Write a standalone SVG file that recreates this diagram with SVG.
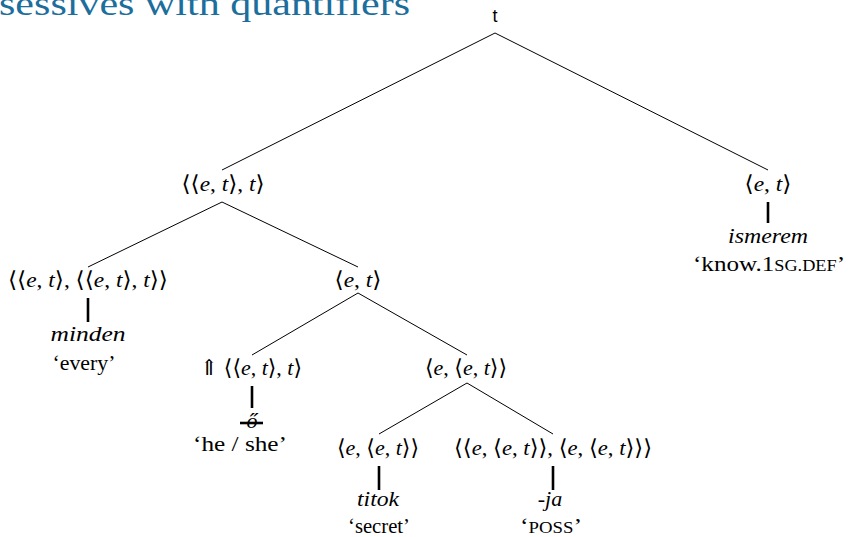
<svg xmlns="http://www.w3.org/2000/svg" width="850" height="537" viewBox="0 0 850 537">
<style>
text{font-family:"Liberation Serif","DejaVu Serif",serif;font-size:22px;fill:#000;text-anchor:middle}
.i{font-style:italic}
.sc{font-size:16px}
.title{font-size:34px;fill:#1c6e9c;text-anchor:start}
.sans{font-family:"Liberation Sans","DejaVu Sans",sans-serif;font-size:18px}
.br{stroke:#000;stroke-width:1;fill:none}
.lx{stroke:#000;stroke-width:2.6;fill:none}
</style>
<text class="title" x="-1" y="15" textLength="411" lengthAdjust="spacingAndGlyphs">sessives with quantifiers</text>
<g id="connectors">
<line class="br" x1="495" y1="33" x2="222" y2="170"/>
<line class="br" x1="495" y1="33" x2="768" y2="170"/>
<line class="br" x1="222" y1="202" x2="88" y2="267"/>
<line class="br" x1="222" y1="202" x2="358" y2="267"/>
<line class="br" x1="358" y1="293" x2="252" y2="355"/>
<line class="br" x1="358" y1="293" x2="467" y2="355"/>
<line class="br" x1="467" y1="383" x2="379" y2="434"/>
<line class="br" x1="467" y1="383" x2="553" y2="434"/>
<line class="lx" x1="768" y1="202" x2="768" y2="223"/>
<line class="lx" x1="88" y1="298" x2="88" y2="322"/>
<line class="lx" x1="252" y1="386" x2="252" y2="408"/>
<line class="lx" x1="379" y1="466" x2="379" y2="490"/>
<line class="lx" x1="553" y1="466" x2="553" y2="490"/>
</g>
<g id="root"><text class="sans" x="495" y="22">t</text></g>
<g id="n-ett-t"><text x="223" y="191" textLength="83" lengthAdjust="spacingAndGlyphs">⟨⟨<tspan class="i">e</tspan>, <tspan class="i">t</tspan>⟩, <tspan class="i">t</tspan>⟩</text></g>
<g id="n-verb"><text x="768" y="191" textLength="47" lengthAdjust="spacingAndGlyphs">⟨<tspan class="i">e</tspan>, <tspan class="i">t</tspan>⟩</text>
<text class="i" x="768" y="243" textLength="80" lengthAdjust="spacingAndGlyphs">ismerem</text>
<text x="769" y="271" textLength="152" lengthAdjust="spacingAndGlyphs">‘know.1<tspan class="sc">SG.DEF</tspan>’</text></g>
<g id="n-minden"><text x="88" y="287" textLength="160" lengthAdjust="spacingAndGlyphs">⟨⟨<tspan class="i">e</tspan>, <tspan class="i">t</tspan>⟩, ⟨⟨<tspan class="i">e</tspan>, <tspan class="i">t</tspan>⟩, <tspan class="i">t</tspan>⟩⟩</text>
<text class="i" x="88" y="341" textLength="75" lengthAdjust="spacingAndGlyphs">minden</text>
<text x="84" y="370" textLength="63" lengthAdjust="spacingAndGlyphs">‘every’</text></g>
<g id="n-et"><text x="358" y="287" textLength="47" lengthAdjust="spacingAndGlyphs">⟨<tspan class="i">e</tspan>, <tspan class="i">t</tspan>⟩</text></g>
<g id="n-o"><text x="251" y="375" textLength="102" lengthAdjust="spacingAndGlyphs">⇑ ⟨⟨<tspan class="i">e</tspan>, <tspan class="i">t</tspan>⟩, <tspan class="i">t</tspan>⟩</text>
<text class="i" x="252" y="428">ő</text>
<line class="lx" x1="240" y1="423" x2="263" y2="423" stroke-width="2"/>
<text x="240" y="451" textLength="94" lengthAdjust="spacingAndGlyphs">‘he / she’</text></g>
<g id="n-eet"><text x="466" y="375" textLength="82" lengthAdjust="spacingAndGlyphs">⟨<tspan class="i">e</tspan>, ⟨<tspan class="i">e</tspan>, <tspan class="i">t</tspan>⟩⟩</text></g>
<g id="n-titok"><text x="378" y="455" textLength="82" lengthAdjust="spacingAndGlyphs">⟨<tspan class="i">e</tspan>, ⟨<tspan class="i">e</tspan>, <tspan class="i">t</tspan>⟩⟩</text>
<text class="i" x="378" y="506" textLength="42" lengthAdjust="spacingAndGlyphs">titok</text>
<text x="379" y="533" textLength="62" lengthAdjust="spacingAndGlyphs">‘secret’</text></g>
<g id="n-ja"><text x="553" y="455" textLength="198" lengthAdjust="spacingAndGlyphs">⟨⟨<tspan class="i">e</tspan>, ⟨<tspan class="i">e</tspan>, <tspan class="i">t</tspan>⟩⟩, ⟨<tspan class="i">e</tspan>, ⟨<tspan class="i">e</tspan>, <tspan class="i">t</tspan>⟩⟩⟩</text>
<text class="i" x="550" y="506">-ja</text>
<text x="551" y="533" textLength="62" lengthAdjust="spacingAndGlyphs">‘<tspan class="sc">POSS</tspan>’</text></g>
</svg>
